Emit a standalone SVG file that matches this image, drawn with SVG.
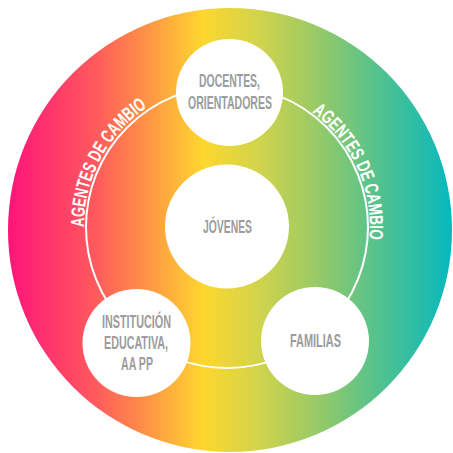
<svg xmlns="http://www.w3.org/2000/svg" width="453" height="453" viewBox="0 0 453 453">
  <defs>
    <linearGradient id="bg" gradientUnits="userSpaceOnUse" x1="8" y1="0" x2="452" y2="0">
      <stop offset="0" stop-color="#ff1479"/>
      <stop offset="0.2" stop-color="#ff5b5c"/>
      <stop offset="0.32" stop-color="#fe9744"/>
      <stop offset="0.44" stop-color="#fdd72e"/>
      <stop offset="0.56" stop-color="#d3d44b"/>
      <stop offset="0.68" stop-color="#9fcb63"/>
      <stop offset="0.82" stop-color="#5ac38a"/>
      <stop offset="1" stop-color="#07b8bf"/>
    </linearGradient>
    <path id="arcL" d="M 84 227 A 143 143 0 0 1 149 106"/>
    <path id="arcR" d="M 312 112 A 143 143 0 0 1 369.2 242"/>
  </defs>
  <style>
    .node { fill: #ffffff; }
    .lbl { font-family: "Liberation Sans", Arial, sans-serif; font-weight: bold; font-size: 17.5px; fill: #9c9c9c; text-anchor: middle; }
    .arc { font-family: "Liberation Sans", Arial, sans-serif; font-weight: bold; font-size: 19px; fill: #ffffff; }
    .ring { fill: none; stroke: #ffffff; stroke-width: 2; }
  </style>
  <circle cx="230" cy="230" r="222" fill="url(#bg)"/>
  <g id="connectors">
    <circle class="ring" cx="227" cy="227" r="141"/>
  </g>
  <g id="agentes-left">
    <text class="arc"><textPath href="#arcL" textLength="141" lengthAdjust="spacingAndGlyphs">AGENTES DE CAMBIO</textPath></text>
  </g>
  <g id="agentes-right">
    <text class="arc"><textPath href="#arcR" textLength="146" lengthAdjust="spacingAndGlyphs">AGENTES DE CAMBIO</textPath></text>
  </g>
  <g id="docentes">
    <circle class="node" cx="229.5" cy="92.5" r="53.5"/>
    <text class="lbl" x="229.5" y="87" textLength="61" lengthAdjust="spacingAndGlyphs">DOCENTES,</text>
    <text class="lbl" x="230" y="109" textLength="84" lengthAdjust="spacingAndGlyphs">ORIENTADORES</text>
  </g>
  <g id="jovenes">
    <circle class="node" cx="227" cy="226.5" r="62"/>
    <text class="lbl" x="227.5" y="233" textLength="49" lengthAdjust="spacingAndGlyphs">JÓVENES</text>
  </g>
  <g id="institucion">
    <circle class="node" cx="136.5" cy="343" r="54"/>
    <text class="lbl" x="136.5" y="328" textLength="69" lengthAdjust="spacingAndGlyphs">INSTITUCIÓN</text>
    <text class="lbl" x="136" y="349" textLength="64" lengthAdjust="spacingAndGlyphs">EDUCATIVA,</text>
    <text class="lbl" x="137" y="370" textLength="32" lengthAdjust="spacingAndGlyphs">AA PP</text>
  </g>
  <g id="familias">
    <circle class="node" cx="315" cy="341" r="54"/>
    <text class="lbl" x="315.5" y="347" textLength="51" lengthAdjust="spacingAndGlyphs">FAMILIAS</text>
  </g>
</svg>
